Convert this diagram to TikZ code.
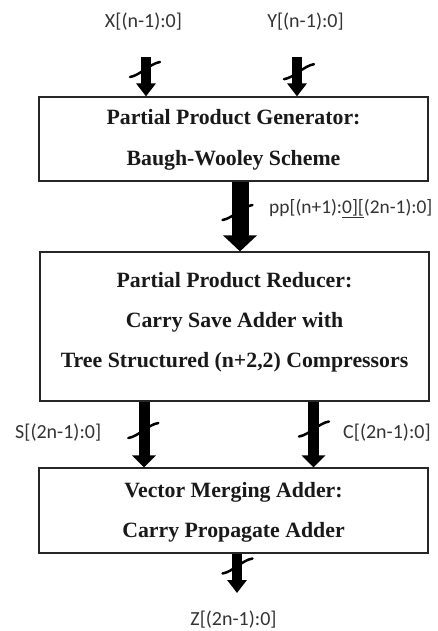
\documentclass[tikz,border=0pt]{standalone}
\usepackage{fontspec}
\setmainfont{Liberation Serif}
\newfontfamily\lab{Carlito}
\usetikzlibrary{arrows.meta}
\tikzset{
  blk/.style={draw=black!85, line width=1.2pt, inner sep=0pt},
  btxt/.style={font=\fontsize{21.8}{26}\selectfont\bfseries, anchor=base, inner sep=0pt, text=black!90},
  lbl/.style={font=\lab\fontsize{20}{24}\selectfont, text=black!80, anchor=base, inner sep=0pt},
  busthin/.style={line width=10pt, -{Triangle[width=19pt,length=13pt]}},
  busmid/.style={line width=11pt, -{Triangle[width=23pt,length=12pt]}},
  busthick/.style={line width=17pt, -{Triangle[width=33pt,length=16pt]}},
  slashline/.style={line width=2.5pt, line cap=round},
}
\begin{document}
\begin{tikzpicture}[x=1pt,y=-1pt]
\useasboundingbox (0,0) rectangle (437,631);
% boxes
\node[blk, minimum width=389pt, minimum height=84pt] (b1) at (233.5,139) {};
\node[blk, minimum width=389pt, minimum height=149pt] (b2) at (234.5,326.5) {};
\node[blk, minimum width=389pt, minimum height=85pt] (b3) at (233.5,510.5) {};
% box texts
\node[btxt] (t11) at (233.5,125) {Partial Product Generator:};
\node[btxt] (t12) at (233.5,166) {Baugh-Wooley Scheme};
\node[btxt] (t21) at (234.5,287) {Partial Product Reducer:};
\node[btxt] (t22) at (234.5,327) {Carry Save Adder with};
\node[btxt] (t23) at (234.5,367) {Tree Structured (n+2,2) Compressors};
\node[btxt] (t31) at (233.5,497) {Vector Merging Adder:};
\node[btxt] (t32) at (233.5,537) {Carry Propagate Adder};
% labels
\node[lbl] (lx) at (143.5,28) {X[(n-1):0]};
\node[lbl] (ly) at (305.5,28) {Y[(n-1):0]};
\node[lbl, anchor=base west, font=\lab\fontsize{19.4}{24}\selectfont] (lpp) at (269,213) {pp[(n+1):\underline{0][}(2n-1):0]};
\node[lbl, anchor=base west] (ls) at (15,438) {S[(2n-1):0]};
\node[lbl, anchor=base west] (lc) at (343,438) {C[(2n-1):0]};
\node[lbl] (lz) at (233.5,625.5) {Z[(2n-1):0]};
% bus coordinates
\coordinate (xa) at (146,57);
\coordinate (ya) at (297,57);
\coordinate (pa) at (240,0);
\coordinate (sa) at (144,0);
\coordinate (ca) at (313.5,0);
\coordinate (za) at (237,593);
% buses
\draw[busthin] (xa) -- (xa |- b1.north);
\draw[busthin] (ya) -- (ya |- b1.north);
\draw[busthick] (pa |- b1.south) -- (pa |- b2.north);
\draw[busmid] (sa |- b2.south) -- (sa |- b3.north);
\draw[busmid] (ca |- b2.south) -- (ca |- b3.north);
\draw[busthin] (za |- b3.south) -- (za);
% slash marks
\coordinate (sx) at (145,69.5);
\coordinate (sy) at (299,71.7);
\coordinate (sp) at (237.5,212.5);
\coordinate (ss) at (143.3,430.5);
\coordinate (sc) at (314,429);
\coordinate (sz) at (237.5,566);
\foreach \c in {sx,sy,sp,ss,sc,sz}{
  \draw[slashline] ([shift={(-15,7.5)}]\c) .. controls ([shift={(-5,6)}]\c) and ([shift={(5,-6)}]\c) .. ([shift={(15,-7.5)}]\c);
}
\end{tikzpicture}
\end{document}
